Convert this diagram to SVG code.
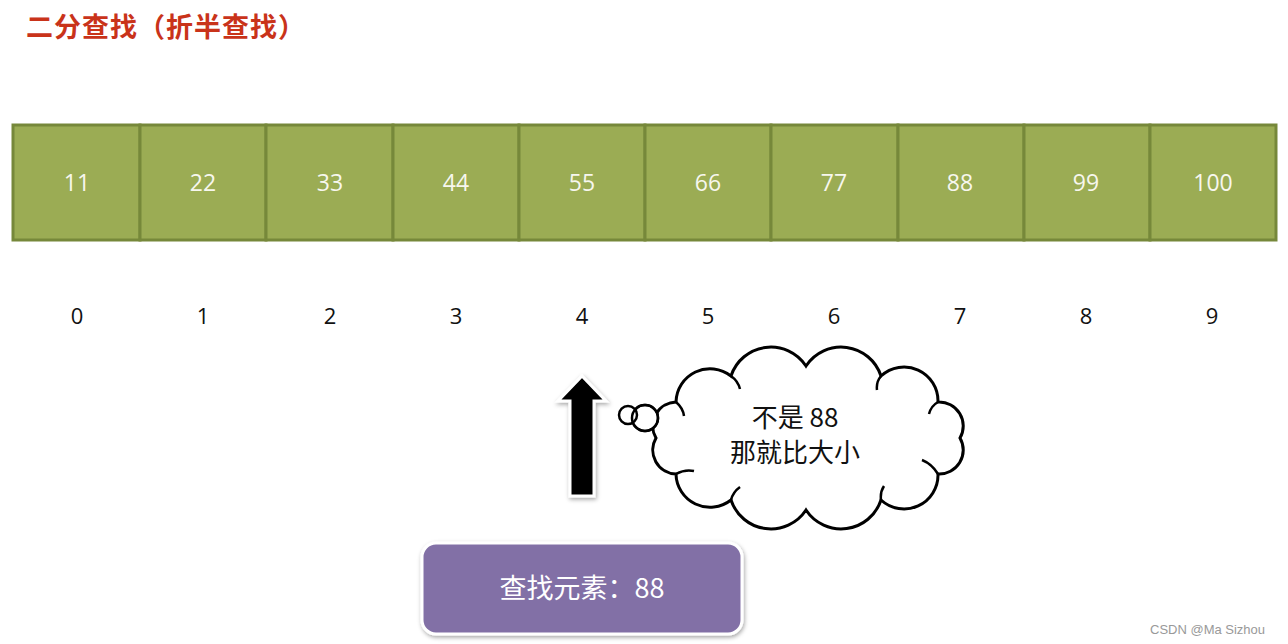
<svg xmlns="http://www.w3.org/2000/svg" width="1288" height="644" viewBox="0 0 1288 644">
<defs>
<style>
.cell rect{fill:#9BAC54;stroke:#76883A;stroke-width:3}
.cell text{font-family:"Open Sans","Liberation Sans",sans-serif;font-size:23px;fill:#F7F7EE;text-anchor:middle}
.idx{font-family:"Open Sans","Liberation Sans",sans-serif;font-size:22px;fill:#111;text-anchor:middle}
.cjk{font-family:"Noto Sans CJK SC",sans-serif}
</style>
<filter id="sh" x="-20%" y="-20%" width="140%" height="140%">
<feDropShadow dx="1" dy="2" stdDeviation="2" flood-color="#000" flood-opacity="0.35"/>
</filter>
</defs>
<rect width="1288" height="644" fill="#fff"/>
<g id="title"><text x="26" y="37" class="cjk" font-size="27" font-weight="bold" letter-spacing="1" fill="#C9331A">二分查找（折半查找）</text></g>
<g id="array">
<g class="cell" id="c0"><rect x="13" y="125" width="127" height="115"/><text x="77" y="191">11</text></g>
<g class="cell" id="c1"><rect x="140" y="125" width="126" height="115"/><text x="203" y="191">22</text></g>
<g class="cell" id="c2"><rect x="266" y="125" width="127" height="115"/><text x="330" y="191">33</text></g>
<g class="cell" id="c3"><rect x="393" y="125" width="126" height="115"/><text x="456" y="191">44</text></g>
<g class="cell" id="c4"><rect x="519" y="125" width="126" height="115"/><text x="582" y="191">55</text></g>
<g class="cell" id="c5"><rect x="645" y="125" width="126" height="115"/><text x="708" y="191">66</text></g>
<g class="cell" id="c6"><rect x="771" y="125" width="127" height="115"/><text x="834" y="191">77</text></g>
<g class="cell" id="c7"><rect x="898" y="125" width="126" height="115"/><text x="960" y="191">88</text></g>
<g class="cell" id="c8"><rect x="1024" y="125" width="126" height="115"/><text x="1086" y="191">99</text></g>
<g class="cell" id="c9"><rect x="1150" y="125" width="126" height="115"/><text x="1213" y="191">100</text></g>
</g>
<g id="indices">
<text class="idx" x="77" y="324">0</text>
<text class="idx" x="203" y="324">1</text>
<text class="idx" x="330" y="324">2</text>
<text class="idx" x="456" y="324">3</text>
<text class="idx" x="582" y="324">4</text>
<text class="idx" x="708" y="324">5</text>
<text class="idx" x="834" y="324">6</text>
<text class="idx" x="960" y="324">7</text>
<text class="idx" x="1086" y="324">8</text>
<text class="idx" x="1212" y="324">9</text>
</g>
<g id="connectors">
<path d="M582 376 L606 401 L594 401 L594 496 L570 496 L570 401 L558 401 Z" fill="#000" stroke="#fff" stroke-width="3" filter="url(#sh)"/>
</g>
<g id="cloud">
<path d="M656 438 A24 24 0 0 1 676 402 A34 34 0 0 1 731 376 A42 42 0 0 1 806 366 A42 42 0 0 1 881 376 A34 34 0 0 1 938 402 A24 24 0 0 1 960 438 A24 24 0 0 1 938 474 A34 34 0 0 1 881 500 A42 42 0 0 1 806 510 A42 42 0 0 1 731 500 A34 34 0 0 1 676 474 A24 24 0 0 1 656 438 Z" fill="#fff" stroke="#000" stroke-width="3"/>
<path d="M676 402 Q683 408 684 416 M731 376 Q738 381 740 389 M881 376 Q876 382 877 390 M938 402 Q931 406 929 414 M938 474 Q932 464 922 460 M881 500 Q880 492 884 486 M731 500 Q733 492 740 487 M676 474 Q685 469 694 471" fill="none" stroke="#000" stroke-width="2.5"/>
<circle cx="645" cy="418" r="13" fill="#fff" stroke="#000" stroke-width="2.5"/>
<circle cx="628" cy="415" r="9" fill="#fff" stroke="#000" stroke-width="2.5"/>
<circle cx="645" cy="418" r="13" fill="none" stroke="#000" stroke-width="2.5"/>
<text class="cjk" x="795" y="427" font-size="26" fill="#111" text-anchor="middle">不是 88</text>
<text class="cjk" x="795" y="462" font-size="26" fill="#111" text-anchor="middle">那就比大小</text>
</g>
<g id="target">
<rect x="422" y="543" width="320" height="91" rx="14" fill="#8270A6" stroke="#fff" stroke-width="3" filter="url(#sh)"/>
<text class="cjk" x="582" y="598" font-size="27" fill="#fff" text-anchor="middle">查找元素：88</text>
</g>
<g id="watermark"><text x="1150" y="634" font-family="Liberation Sans,sans-serif" font-size="13" fill="#999">CSDN @Ma Sizhou</text></g>
</svg>
